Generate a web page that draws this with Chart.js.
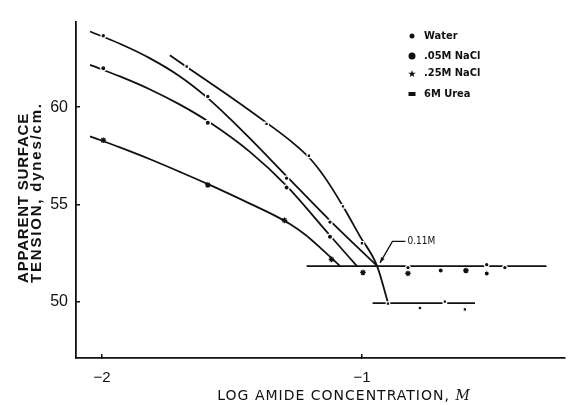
<!DOCTYPE html>
<html>
<head>
<meta charset="utf-8">
<script src="https://cdn.jsdelivr.net/npm/chart.js@4.4.1/dist/chart.umd.min.js"></script>
<style>
  html, body { margin: 0; padding: 0; background: #fff; }
  #wrap { width: 570px; height: 405px; }
</style>
</head>
<body>
<div id="wrap"><canvas id="chart" width="570" height="405"></canvas></div>
<script>
// axis ticks
const xTicks = [-2, -1];
const yTicks = [50, 55, 60];

const seriesNames = ['Water', '.05M NaCl', '.25M NaCl', '6M Urea'];
const yTitleLines = ['APPARENT SURFACE', 'TENSION, dynes/cm.'];
const xTitle = 'LOG AMIDE CONCENTRATION, ';
const xTitleUnit = 'M';

// hand drawn curves (log conc., dynes/cm)
const waterLineX = [-2.046, -1.931, -1.815, -1.700, -1.604, -1.508, -1.431, -1.292, -1.123, -0.942];
const waterLineY = [63.89, 63.26, 62.51, 61.58, 60.59, 59.41, 58.39, 56.48, 54.17, 51.84];
const naclLowLineX = [-2.046, -1.931, -1.815, -1.700, -1.592, -1.431, -1.289, -1.123, -1.020];
const naclLowLineY = [62.17, 61.58, 60.91, 60.13, 59.27, 57.70, 55.94, 53.40, 51.84];
const naclHighLineX = [-2.046, -1.931, -1.815, -1.700, -1.592, -1.431, -1.335, -1.277, -1.219, -1.162, -1.085];
const naclHighLineY = [58.50, 57.93, 57.32, 56.67, 56.04, 55.04, 54.42, 53.99, 53.45, 52.79, 51.84];
const ureaLineX = [-1.739, -1.623, -1.508, -1.365, -1.277, -1.200, -1.162, -1.123, -1.073, -1.008, -0.942, -0.899];
const ureaLineY = [62.67, 61.60, 60.55, 59.18, 58.29, 57.36, 56.74, 55.99, 54.90, 53.37, 51.84, 49.90];

// plateaus above the cmc
const plateauHighX = [-1.213, -0.290];
const plateauHighY = [51.82, 51.82];
const plateauLowX = [-0.959, -0.565];
const plateauLowY = [49.92, 49.92];

// measured points
const waterPtX = [-1.995, -1.593, -1.290, -1.123, -0.823, -0.520, -0.450];
const waterPtY = [63.67, 60.55, 56.35, 54.09, 51.75, 51.90, 51.75];
const naclLowPtX = [-1.995, -1.593, -1.290, -1.123, -0.697, -0.520];
const naclLowPtY = [62.00, 59.20, 55.87, 53.34, 51.60, 51.45];
const naclHighPtX = [-1.995, -1.593, -1.298, -1.117, -0.996, -0.823, -0.600];
const naclHighPtY = [58.30, 56.00, 54.18, 52.17, 51.50, 51.45, 51.60];
const ureaPtX = [-1.674, -1.367, -1.204, -1.073, -1.000, -0.900, -0.777, -0.681, -0.604];
const ureaPtY = [62.09, 59.14, 57.50, 54.90, 53.00, 49.90, 49.67, 50.00, 49.60];

// cmc note
const cmcX = -0.942, cmcY = 51.84;
const cmcLabel = '0.11M';
const cmcLabelX = -0.825, cmcLabelY = 53.1;

const ink = '#111';

function pts(xs, ys) {
  return xs.map((x, i) => ({ x: x, y: ys[i] }));
}

function curve(xs, ys) {
  return {
    type: 'line',
    data: pts(xs, ys),
    borderColor: ink,
    borderWidth: 1.8,
    pointRadius: 0,
    cubicInterpolationMode: 'monotone',
    fill: false,
    order: 2
  };
}

function marks(xs, ys, style, r) {
  let star = style === 'star';
  return {
    type: 'scatter',
    data: pts(xs, ys),
    pointStyle: style,
    pointRadius: r,
    backgroundColor: ink,
    borderColor: star ? ink : '#fff',
    borderWidth: star ? 1.3 : 1.2,
    order: 0
  };
}

const paperText = {
  id: 'paperText',
  afterDraw(chart) {
    const ctx = chart.ctx;
    const xs = chart.scales.x, ys = chart.scales.y;
    ctx.save();
    ctx.fillStyle = ink;
    ctx.strokeStyle = ink;

    // y title, two rotated lines
    ctx.font = 'bold 15px "Liberation Sans", Arial, sans-serif';
    ctx.textAlign = 'left';
    ctx.textBaseline = 'alphabetic';
    yTitleLines.forEach((line, i) => {
      ctx.save();
      ctx.translate(28 + i * 12.5, 283);
      ctx.rotate(-Math.PI / 2);
      ctx.letterSpacing = i === 1 ? '1.8px' : '0.8px';
      ctx.fillText(line, 0, 0);
      ctx.restore();
    });

    // x title
    ctx.save();
    ctx.letterSpacing = '1px';
    ctx.font = '14px "DejaVu Sans", sans-serif';
    let w1 = ctx.measureText(xTitle).width;
    ctx.font = 'italic 14px "DejaVu Serif", serif';
    let w2 = ctx.measureText(xTitleUnit).width;
    let x0 = 344 - (w1 + w2) / 2;
    ctx.font = '14px "DejaVu Sans", sans-serif';
    ctx.fillText(xTitle, x0, 400);
    ctx.font = 'italic 14px "DejaVu Serif", serif';
    ctx.fillText(xTitleUnit, x0 + w1, 400);
    ctx.restore();

    // legend
    const rows = [36, 56, 73.5, 94];
    const mx = 412;
    ctx.font = 'bold 11px "DejaVu Sans Condensed", "Liberation Sans Narrow", sans-serif';
    ctx.textBaseline = 'middle';
    seriesNames.forEach((name, i) => {
      let yy = rows[i];
      ctx.beginPath();
      if (i === 0) {
        ctx.arc(mx, yy, 2.5, 0, Math.PI * 2);
        ctx.fill();
      } else if (i === 1) {
        ctx.arc(mx, yy, 3.5, 0, Math.PI * 2);
        ctx.fill();
      } else if (i === 2) {
        for (let k = 0; k < 10; k++) {
          let r = k % 2 === 0 ? 3.8 : 1.6;
          let a = -Math.PI / 2 + k * Math.PI / 5;
          let px = mx + r * Math.cos(a), py = yy + 0.5 + r * Math.sin(a);
          if (k === 0) ctx.moveTo(px, py); else ctx.lineTo(px, py);
        }
        ctx.closePath();
        ctx.fill();
      } else {
        ctx.fillRect(mx - 3.5, yy - 2, 7, 4);
      }
      ctx.fillText(name, 424, yy);
    });

    // cmc label with leader arrow
    let tx = xs.getPixelForValue(cmcLabelX), ty = ys.getPixelForValue(cmcLabelY);
    let cx = xs.getPixelForValue(cmcX), cy = ys.getPixelForValue(cmcY);
    ctx.font = '10px "DejaVu Sans Condensed", "Liberation Sans Narrow", sans-serif';
    ctx.textBaseline = 'middle';
    ctx.fillText(cmcLabel, tx, ty);
    let ex = cx + 3, ey = cy - 3;
    let sx = tx - 15;
    ctx.lineWidth = 1.3;
    ctx.beginPath();
    ctx.moveTo(tx - 2, ty);
    ctx.lineTo(sx, ty);
    ctx.lineTo(ex, ey);
    ctx.stroke();
    let ang = Math.atan2(ey - ty, ex - sx);
    ctx.beginPath();
    ctx.moveTo(ex, ey);
    ctx.lineTo(ex - 6 * Math.cos(ang - 0.35), ey - 6 * Math.sin(ang - 0.35));
    ctx.lineTo(ex - 6 * Math.cos(ang + 0.35), ey - 6 * Math.sin(ang + 0.35));
    ctx.closePath();
    ctx.fill();

    ctx.restore();
  }
};

const ctx = document.getElementById('chart').getContext('2d');
const chart = new Chart(ctx, {
  type: 'scatter',
  data: {
    datasets: [
      marks(waterPtX, waterPtY, 'circle', 2.3),
      marks(naclLowPtX, naclLowPtY, 'circle', 2.6),
      marks(naclHighPtX, naclHighPtY, 'star', 2.8),
      marks(ureaPtX, ureaPtY, 'rect', 2.5),
      curve(waterLineX, waterLineY),
      curve(naclLowLineX, naclLowLineY),
      curve(naclHighLineX, naclHighLineY),
      curve(ureaLineX, ureaLineY),
      curve(plateauHighX, plateauHighY),
      curve(plateauLowX, plateauLowY)
    ]
  },
  options: {
    responsive: false,
    devicePixelRatio: 1,
    animation: false,
    layout: { padding: { top: 12, right: 5, left: 0, bottom: 0 } },
    plugins: {
      legend: { display: false },
      tooltip: { enabled: false }
    },
    scales: {
      x: {
        type: 'linear',
        min: -2.1,
        max: -0.22,
        afterBuildTicks: s => { s.ticks = xTicks.map(v => ({ value: v })); },
        afterFit: s => { s.height = 47; },
        grid: { drawOnChartArea: false, drawTicks: true, tickLength: -4, color: ink, lineWidth: 1.5 },
        border: { color: ink, width: 1.8 },
        ticks: {
          autoSkip: false,
          maxRotation: 0,
          padding: 15,
          color: ink,
          font: { family: '"Liberation Sans", Arial, sans-serif', size: 15 },
          callback: v => (v < 0 ? '\u2212' + Math.abs(v) : String(v))
        }
      },
      y: {
        type: 'linear',
        min: 47.1,
        max: 64.4,
        afterBuildTicks: s => { s.ticks = yTicks.map(v => ({ value: v })); },
        afterFit: s => { s.width = 76; },
        grid: { drawOnChartArea: false, drawTicks: true, tickLength: -4, color: ink, lineWidth: 1.5 },
        border: { color: ink, width: 1.8 },
        ticks: {
          autoSkip: false,
          padding: 12,
          color: ink,
          font: { family: '"Liberation Sans", Arial, sans-serif', size: 16 }
        }
      }
    }
  },
  plugins: [paperText]
});
</script>
</body>
</html>
